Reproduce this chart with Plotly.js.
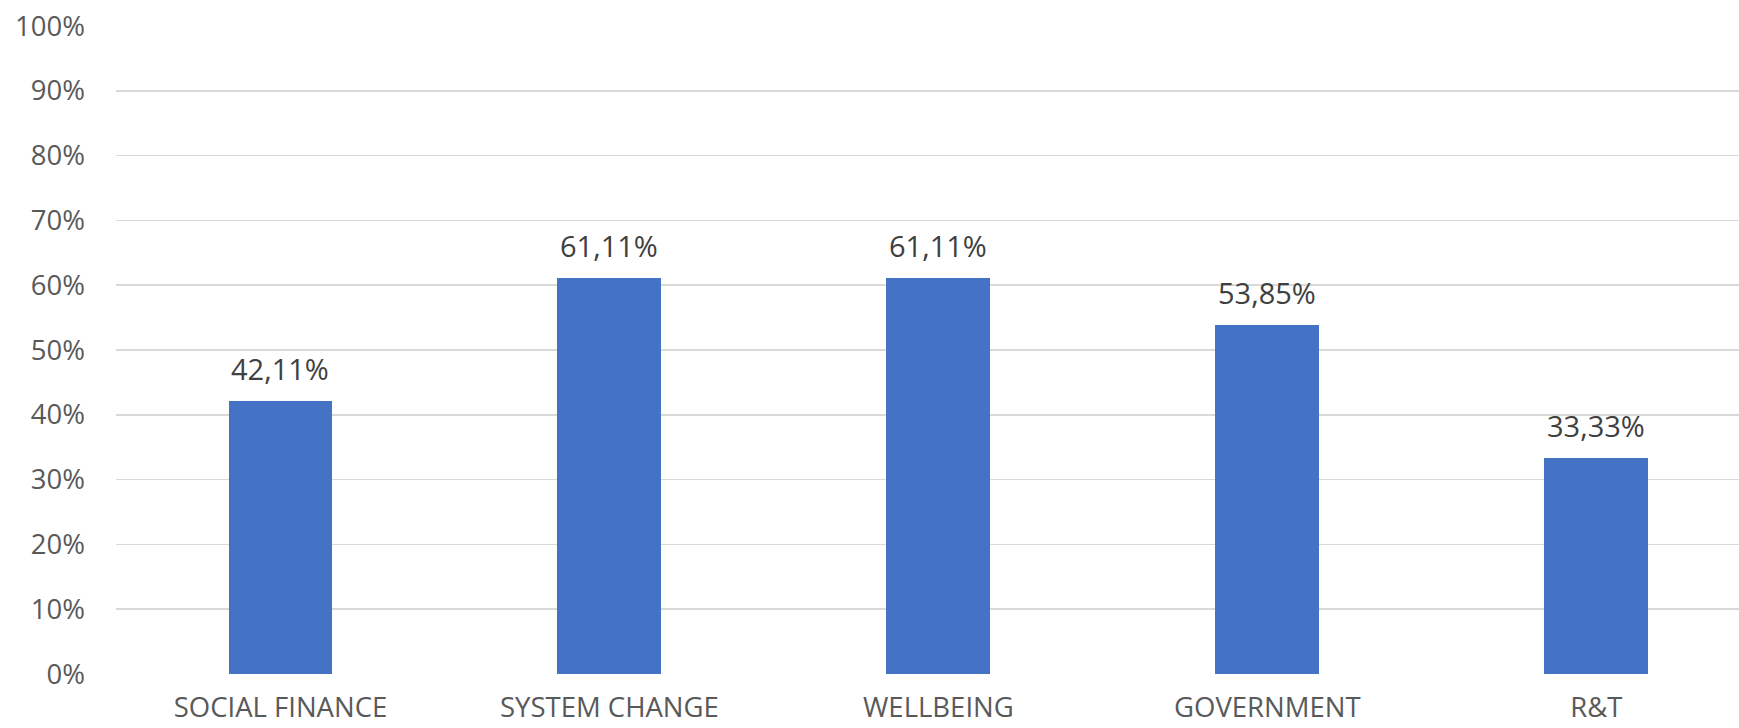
<!DOCTYPE html>
<html>
<head>
<meta charset="utf-8">
<script src="https://cdn.plot.ly/plotly-3.0.1.min.js"></script>
<style>html,body{margin:0;padding:0;background:#fff;}#chart{width:1739px;height:728px;}</style>
</head>
<body>
<div id="chart"></div>
<script>
const categories = ["SOCIAL FINANCE", "SYSTEM CHANGE", "WELLBEING", "GOVERNMENT", "R&T"];
const values = [0.4211, 0.6111, 0.6111, 0.5385, 0.3333];

const labels = values.map(v => (v * 100).toFixed(2).replace('.', ',') + '%');

const trace = {
  type: 'bar',
  x: categories,
  y: values,
  width: 0.316,
  marker: {color: '#4472C4'},
  hoverinfo: 'none'
};

const annotations = categories.map((c, i) => ({
  x: c, y: values[i], xref: 'x', yref: 'y',
  text: labels[i], showarrow: false,
  yanchor: 'bottom', yshift: 11,
  font: {family: 'Open Sans, sans-serif', size: 29, color: '#404040'}
}));

const layout = {
  width: 1739, height: 728,
  margin: {l: 116, r: 0, t: 26, b: 54},
  paper_bgcolor: '#fff', plot_bgcolor: '#fff',
  showlegend: false,
  bargap: 0,
  xaxis: {
    type: 'category',
    range: [-0.5, 4.434],
    showgrid: false, zeroline: false, showline: false,
    ticks: '',
    ticklabelstandoff: 14,
    tickfont: {family: 'Open Sans, sans-serif', size: 27.5, color: '#595959'}
  },
  yaxis: {
    range: [0, 1],
    dtick: 0.1, tick0: 0,
    tickformat: '.0%',
    showgrid: true, gridcolor: '#d9d9d9', gridwidth: 1.5,
    zeroline: false, showline: false,
    ticks: '',
    ticklabelstandoff: 30,
    tickfont: {family: 'Open Sans, sans-serif', size: 27.5, color: '#595959'}
  },
  annotations: annotations
};

Plotly.newPlot('chart', [trace], layout, {displayModeBar: false, staticPlot: true});
</script>
</body>
</html>
